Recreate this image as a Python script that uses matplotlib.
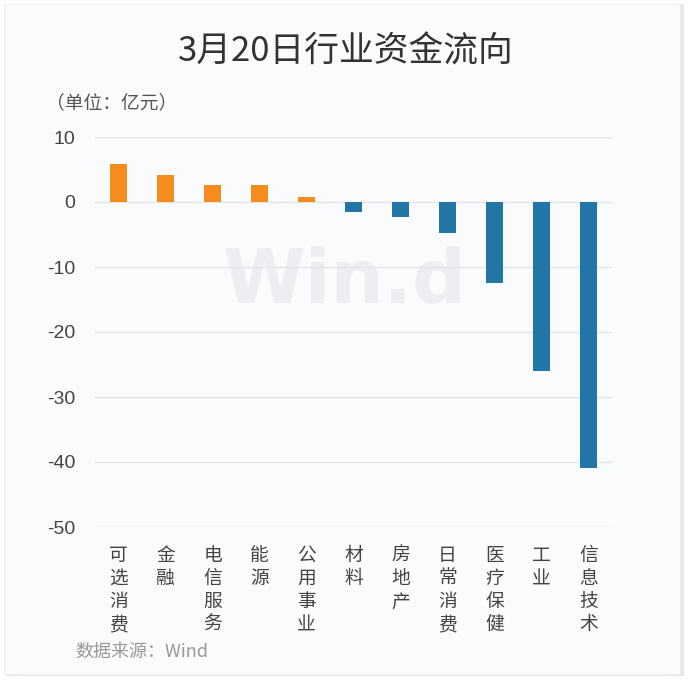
import matplotlib
matplotlib.use("Agg")
import matplotlib.pyplot as plt
from matplotlib.patches import Rectangle

plt.rcParams['font.family'] = ['Noto Sans CJK SC', 'DejaVu Sans']

categories = ["可选消费", "金融", "电信服务", "能源", "公用事业", "材料", "房地产", "日常消费", "医疗保健", "工业", "信息技术"]
values = [5.9, 4.2, 2.6, 2.6, 0.8, -1.5, -2.3, -4.8, -12.4, -26.0, -40.9]
yticks = [10, 0, -10, -20, -30, -40, -50]

W, H = 692, 684
fig = plt.figure(figsize=(W / 100, H / 100), dpi=100)
fig.patch.set_facecolor("white")

# card background
fig.patches.append(Rectangle((6 / W, 8 / H), 678 / W, 672 / H, transform=fig.transFigure,
                             facecolor="#e6e7ea", edgecolor="none", zorder=-5))
fig.patches.append(Rectangle((4 / W, 10 / H), 676 / W, 670 / H, transform=fig.transFigure,
                             facecolor="#fafbfd", edgecolor="#eeeff2", linewidth=0.8, zorder=-4))

ax = fig.add_axes([95 / W, 1 - 527 / H, (612 - 95) / W, (527 - 137) / H])
ax.set_facecolor("none")
ax.set_ylim(-50, 10)
ax.set_xlim(-0.5, len(categories) - 0.5)

colors = ["#F68B1E" if v >= 0 else "#2176A5" for v in values]
ax.bar(range(len(categories)), values, width=0.38, color=colors, zorder=3)

ax.set_yticks(yticks)
ax.set_yticklabels([str(t) for t in yticks], fontsize=14, color="#444444",
                   family=["Liberation Sans", "DejaVu Sans"])
ax.yaxis.grid(True, color="#e3e4e8", linewidth=1, zorder=0.5)
ax.set_axisbelow(True)
ax.tick_params(axis="y", length=0, pad=14)
ax.tick_params(axis="x", length=0)
ax.set_xticks(range(len(categories)))
ax.set_xticklabels(["\n".join(c) for c in categories], fontsize=13.5, color="#444444",
                   va="top", linespacing=1.13)
ax.tick_params(axis="x", pad=13)
for s in ax.spines.values():
    s.set_visible(False)

# watermark
ax.text((345 - 95) / (612 - 95), (527 - 283) / (527 - 137), "Win.d", transform=ax.transAxes,
        fontsize=54, fontweight="bold", color="#edeef1", ha="center", va="center",
        zorder=0.3, family="DejaVu Sans")

fig.text(346 / W, 1 - 52 / H, "3月20日行业资金流向", fontsize=25, color="#333333",
         ha="center", va="center")
fig.text(46 / W, 1 - 103 / H, "（单位：亿元）", fontsize=13.5, color="#555555",
         ha="left", va="center")
fig.text(75 / W, 1 - 652 / H, "数据来源：Wind", fontsize=13, color="#999999",
         ha="left", va="center")

fig.savefig("out.png", dpi=100, facecolor=fig.get_facecolor())
